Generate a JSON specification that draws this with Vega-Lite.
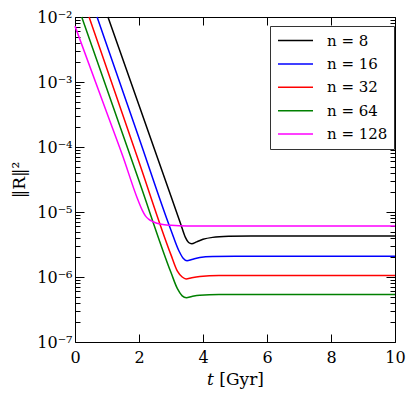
{
  "$schema": "https://vega.github.io/schema/vega-lite/v6.json",
  "width": 320,
  "height": 325,
  "autosize": "none",
  "padding": {"left": 75, "top": 17, "right": 18, "bottom": 56},
  "config": {
    "view": {"stroke": "black", "strokeWidth": 1},
    "font": "DejaVu Serif",
    "axis": {"domain": false, "grid": false, "tickColor": "black", "tickWidth": 1, "labelColor": "black", "titleColor": "black", "labelFont": "DejaVu Serif", "titleFont": "DejaVu Serif", "labelFontSize": 16, "titleFontSize": 17, "titleFontWeight": "normal"},
    "legend": {"labelFont": "DejaVu Serif"}
  },
  "data": {"values": [
    {"series": "n = 8", "t": 1.03, "r": 1e-2},
    {"series": "n = 8", "t": 2.0, "r": 4.37e-4},
    {"series": "n = 8", "t": 3.0, "r": 1.74e-5},
    {"series": "n = 8", "t": 3.3, "r": 6.61e-6},
    {"series": "n = 8", "t": 3.45, "r": 4.07e-6},
    {"series": "n = 8", "t": 3.55, "r": 3.39e-6},
    {"series": "n = 8", "t": 3.65, "r": 3.24e-6},
    {"series": "n = 8", "t": 3.8, "r": 3.47e-6},
    {"series": "n = 8", "t": 4.0, "r": 3.80e-6},
    {"series": "n = 8", "t": 4.3, "r": 4.07e-6},
    {"series": "n = 8", "t": 4.8, "r": 4.22e-6},
    {"series": "n = 8", "t": 5.5, "r": 4.27e-6},
    {"series": "n = 8", "t": 10, "r": 4.27e-6},
    {"series": "n = 16", "t": 0.69, "r": 1e-2},
    {"series": "n = 16", "t": 2.0, "r": 1.38e-4},
    {"series": "n = 16", "t": 3.0, "r": 5.25e-6},
    {"series": "n = 16", "t": 3.25, "r": 2.51e-6},
    {"series": "n = 16", "t": 3.38, "r": 1.95e-6},
    {"series": "n = 16", "t": 3.5, "r": 1.78e-6},
    {"series": "n = 16", "t": 3.65, "r": 1.86e-6},
    {"series": "n = 16", "t": 3.9, "r": 2.0e-6},
    {"series": "n = 16", "t": 4.3, "r": 2.07e-6},
    {"series": "n = 16", "t": 5.0, "r": 2.09e-6},
    {"series": "n = 16", "t": 10, "r": 2.09e-6},
    {"series": "n = 32", "t": 0.44, "r": 1e-2},
    {"series": "n = 32", "t": 2.0, "r": 5.89e-5},
    {"series": "n = 32", "t": 3.0, "r": 2.19e-6},
    {"series": "n = 32", "t": 3.2, "r": 1.23e-6},
    {"series": "n = 32", "t": 3.35, "r": 1.0e-6},
    {"series": "n = 32", "t": 3.47, "r": 9.33e-7},
    {"series": "n = 32", "t": 3.65, "r": 9.77e-7},
    {"series": "n = 32", "t": 3.9, "r": 1.02e-6},
    {"series": "n = 32", "t": 4.5, "r": 1.05e-6},
    {"series": "n = 32", "t": 10, "r": 1.05e-6},
    {"series": "n = 64", "t": 0.21, "r": 1e-2},
    {"series": "n = 64", "t": 2.0, "r": 3.02e-5},
    {"series": "n = 64", "t": 3.0, "r": 1.17e-6},
    {"series": "n = 64", "t": 3.2, "r": 6.61e-7},
    {"series": "n = 64", "t": 3.35, "r": 5.13e-7},
    {"series": "n = 64", "t": 3.48, "r": 4.79e-7},
    {"series": "n = 64", "t": 3.65, "r": 5.01e-7},
    {"series": "n = 64", "t": 3.9, "r": 5.25e-7},
    {"series": "n = 64", "t": 4.5, "r": 5.37e-7},
    {"series": "n = 64", "t": 10, "r": 5.37e-7},
    {"series": "n = 128", "t": 0, "r": 7.24e-3},
    {"series": "n = 128", "t": 1.0, "r": 3.31e-4},
    {"series": "n = 128", "t": 1.5, "r": 7.08e-5},
    {"series": "n = 128", "t": 1.94, "r": 1.66e-5},
    {"series": "n = 128", "t": 2.1, "r": 1.07e-5},
    {"series": "n = 128", "t": 2.2, "r": 8.71e-6},
    {"series": "n = 128", "t": 2.3, "r": 7.76e-6},
    {"series": "n = 128", "t": 2.44, "r": 7.08e-6},
    {"series": "n = 128", "t": 2.7, "r": 6.46e-6},
    {"series": "n = 128", "t": 3.0, "r": 6.24e-6},
    {"series": "n = 128", "t": 3.5, "r": 6.10e-6},
    {"series": "n = 128", "t": 10, "r": 6.10e-6}
  ]},
  "resolve": {"axis": {"x": "independent", "y": "independent"}},
  "layer": [
    {
      "mark": {"type": "line", "strokeWidth": 1.5, "interpolate": "monotone"},
      "encoding": {
        "x": {"field": "t", "type": "quantitative", "scale": {"domain": [0, 10], "nice": false, "zero": false},
          "axis": {"orient": "bottom", "values": [0, 2, 4, 6, 8, 10], "tickSize": -8, "labelPadding": 15, "title": "𝑡 [Gyr]", "titlePadding": 6, "labelFlush": false}},
        "y": {"field": "r", "type": "quantitative", "scale": {"type": "log", "domain": [1e-7, 1e-2], "nice": false},
          "axis": {"orient": "left",
            "values": [1e-7,2e-7,3e-7,4e-7,5e-7,6e-7,7e-7,8e-7,9e-7,1e-6,2e-6,3e-6,4e-6,5e-6,6e-6,7e-6,8e-6,9e-6,1e-5,2e-5,3e-5,4e-5,5e-5,6e-5,7e-5,8e-5,9e-5,1e-4,2e-4,3e-4,4e-4,5e-4,6e-4,7e-4,8e-4,9e-4,1e-3,2e-3,3e-3,4e-3,5e-3,6e-3,7e-3,8e-3,9e-3,1e-2],
            "tickSize": {"condition": {"test": "abs(log(datum.value)/LN10 - round(log(datum.value)/LN10)) < 1e-6", "value": -9}, "value": -5},
            "labelPadding": 12,
            "labelExpr": "abs(log(datum.value)/LN10 - round(log(datum.value)/LN10)) < 1e-6 ? '10' + ['⁻⁷','⁻⁶','⁻⁵','⁻⁴','⁻³','⁻²'][round(log(datum.value)/LN10)+7] : ''",
            "labelFlush": false, "labelOverlap": false,
            "title": "‖R‖²", "titlePadding": 8}},
        "color": {"field": "series", "type": "nominal",
          "scale": {"domain": ["n = 8", "n = 16", "n = 32", "n = 64", "n = 128"], "range": ["#000000", "#0000ff", "#ff0000", "#008000", "#ff00ff"]},
          "legend": {"orient": "none", "legendX": 195, "legendY": 9, "title": null, "strokeColor": "#333333", "fillColor": "white", "padding": 6, "cornerRadius": 0,
            "symbolType": "stroke", "symbolSize": 1225, "symbolStrokeWidth": 1.5, "symbolOffset": 1, "labelOffset": 13, "labelFontSize": 15, "labelFont": "DejaVu Serif", "labelColor": "black", "clipHeight": 17, "rowPadding": 6.4}}
      }
    },
    {
      "mark": {"type": "point", "opacity": 0},
      "encoding": {
        "x": {"field": "t", "type": "quantitative", "scale": {"domain": [0, 10], "nice": false, "zero": false},
          "axis": {"orient": "top", "values": [0, 2, 4, 6, 8, 10], "tickSize": -8, "labels": false, "title": null}},
        "y": {"field": "r", "type": "quantitative", "scale": {"type": "log", "domain": [1e-7, 1e-2], "nice": false},
          "axis": {"orient": "right",
            "values": [1e-7,2e-7,3e-7,4e-7,5e-7,6e-7,7e-7,8e-7,9e-7,1e-6,2e-6,3e-6,4e-6,5e-6,6e-6,7e-6,8e-6,9e-6,1e-5,2e-5,3e-5,4e-5,5e-5,6e-5,7e-5,8e-5,9e-5,1e-4,2e-4,3e-4,4e-4,5e-4,6e-4,7e-4,8e-4,9e-4,1e-3,2e-3,3e-3,4e-3,5e-3,6e-3,7e-3,8e-3,9e-3,1e-2],
            "tickSize": {"condition": {"test": "abs(log(datum.value)/LN10 - round(log(datum.value)/LN10)) < 1e-6", "value": -9}, "value": -5},
            "labels": false, "title": null}}
      }
    }
  ]
}
